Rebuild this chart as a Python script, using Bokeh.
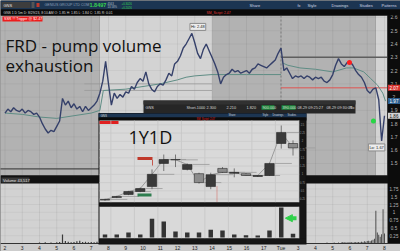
import numpy as np
from bokeh.plotting import figure
from bokeh.models import Range1d, Label, Arrow, NormalHead
from bokeh.core.properties import value
from bokeh.embed import file_html
from bokeh.resources import INLINE

W, H = 400, 251

# ---------------- 5m chart: hours since Mon 02:00 on x, 10-minute closes ----------------
PRICE = [
    1.88, 1.91, 1.89, 1.92, 1.90, 1.89,
    1.91, 1.88, 1.90, 1.89, 1.87, 1.88,
    1.85, 1.80, 1.76, 1.73, 1.75, 1.74,
    1.78, 1.82, 1.99, 1.94, 1.97, 1.92,
    1.95, 1.91, 1.93, 1.89, 1.93, 1.90,
    1.92, 1.94, 1.97, 2.03, 2.12, 2.27,
    2.10, 1.94, 2.03, 1.99, 2.02, 2.00,
    2.04, 2.03, 2.08, 2.06, 2.11, 2.14,
    2.12, 2.19, 2.10, 2.06, 2.04, 2.08,
    2.10, 2.09, 2.13, 2.18, 2.16, 2.25,
    2.27, 2.31, 2.37, 2.40, 2.44, 2.48,
    2.41, 2.33, 2.29, 2.36, 2.40, 2.35,
    2.30, 2.25, 2.19, 2.10, 2.15, 2.17,
    2.18, 2.21, 2.19, 2.20, 2.18, 2.19,
    2.20, 2.18, 2.21, 2.22, 2.25, 2.24,
    2.23, 2.22, 2.24, 2.26, 2.28, 2.33,
    2.37, 2.20, 2.22, 2.18, 2.14, 2.16,
    2.15, 2.16, 2.14, 2.16, 2.15, 2.13,
    2.15, 2.14, 2.15, 2.12, 2.11, 2.13,
    2.17, 2.24, 2.29, 2.25, 2.23, 2.26,
    2.27, 2.24, 2.20, 2.17, 2.15, 2.11,
    2.05, 2.03, 2.06, 2.07, 1.98, 1.67,
    1.86,
]
PRICE_T = np.arange(len(PRICE)) / 6.0

MA_DAY1_T = [0, 1, 2, 3, 4, 5, 5.5, 5.7, 7, 8, 9, 10, 10.5, 11, 12, 13, 14, 15, 16]
MA_DAY1 = [1.88, 1.87, 1.85, 1.84, 1.86, 1.88, 1.90, 2.05, 2.06, 2.08, 2.10, 2.13,
           2.15, 2.16, 2.17, 2.17, 2.17, 2.17, 2.17]
MA_DAY2_T = [16.05, 16.4, 17.1, 18.0, 19.0, 19.8, 20.2, 20.8, 21.2, 21.6, 21.9, 22.06]
MA_DAY2 = [2.26, 2.24, 2.22, 2.21, 2.19, 2.22, 2.22, 2.19, 2.14, 2.09, 2.03, 1.97]

SESSION_START = [-0.3, 5.5, 12.0, 21.5]
SESSION_END = [5.5, 12.0, 21.5, 22.17]
SESSION_REGULAR = [False, True, False, True]
DAY_BREAK = 16.0

LEVEL_T0 = [16.0, 16.0, 4.6, 4.6, -0.3]
LEVEL_T1 = [22.17, 22.17, 12.0, 12.0, 5.5]
LEVEL_PRICE = [2.30, 2.07, 2.10, 2.05, 1.46]
LEVEL_COLOR = ["#5e5e5e", "#e0524f", "#9a9a9a", "#9a9a9a", "#4a4a4a"]
LEVEL_WIDTH = [1.6, 1.0, 0.8, 0.8, 1.2]

SELL_T, SELL_P = 19.97, 2.26
BUY_T, BUY_P = 21.36, 1.82
LAST_PRICE = 1.86
MA_LAST = 1.97
STOP_LEVEL = 2.07

VOL_PRE = [0.02, 0.01, 0.02, 0.01, 0.01, 0.02, 0.01, 0.02, 0.01, 0.01, 0.02, 0.01,
           0.03, 0.02, 0.04, 0.02, 0.03, 0.02, 0.04, 0.05, 0.29, 0.08, 0.06, 0.04,
           0.05, 0.07, 0.09, 0.05, 0.06, 0.04, 0.05, 0.04, 0.06]
VOL_PRE_T = np.arange(len(VOL_PRE)) / 6.0
VOL_TUE = [0.01, 0.02, 0.01, 0.01, 0.02, 0.01, 0.02, 0.01, 0.01, 0.02, 0.01, 0.02,
           0.02, 0.01, 0.03, 0.02, 0.01, 0.02, 0.02, 0.03, 0.01, 0.02, 0.03, 0.02,
           0.03, 0.05, 0.04, 0.03, 0.04, 0.03, 0.05, 0.04, 0.03, 0.04, 0.05, 0.04,
           0.05, 0.04, 0.06, 0.05, 0.07, 0.06, 0.08, 0.09, 0.07, 0.10, 0.12, 0.15,
           1.05, 0.35, 0.28, 0.22, 0.30, 1.10, 0.32]
VOL_TUE_T = 17.5 + np.arange(len(VOL_TUE)) / 12.0

HOUR_LABELS = ["2", "3", "4", "5", "6", "7", "8", "9", "10", "11", "12", "13", "14",
               "15", "16", "17", "Tue", "3", "4", "5", "6", "7", "8"]
PRICE_TICKS = [2.6, 2.5, 2.4, 2.3, 2.2, 2.1, 2.0, 1.9, 1.8, 1.7, 1.6, 1.5]
VOL_TICKS = [1.75, 1.5, 1.25, 1.0, 0.75, 0.5, 0.25]

TRADE_ROW = ["GNS", "Short", "-1000", "2.300", "2.210", "1.820", "900.000", "390.000",
             "08-29 09:25:27", "08-29 09:30:07", "No"]

# ---------------- 1Y1D daily inset ----------------
D_OPEN = [0.22, 0.30, 0.39, 0.48, 0.63, 1.33, 1.45, 1.15, 1.02, 0.63, 1.18, 1.03, 1.02, 0.935, 0.965, 1.935, 1.935]
D_HIGH = [0.26, 0.35, 0.50, 0.60, 1.15, 1.60, 1.60, 1.33, 1.05, 1.05, 1.22, 1.18, 1.04, 0.97, 1.35, 2.48, 2.03]
D_LOW = [0.20, 0.28, 0.37, 0.46, 0.55, 1.10, 1.22, 1.12, 0.72, 0.55, 1.04, 0.91, 0.96, 0.92, 0.95, 1.78, 1.57]
D_CLOSE = [0.24, 0.33, 0.48, 0.57, 1.00, 1.45, 1.44, 1.30, 0.75, 0.99, 1.06, 1.06, 0.965, 0.965, 1.33, 2.27, 1.80]
D_VOL = [9, 9, 15, 9, 56, 48, 18, 15, 15, 23, 21, 9, 7, 6, 21, 90, 11]
D_IDX = np.arange(len(D_CLOSE))
D_TICKS = [0.25, 0.5, 0.75, 1.0, 1.25, 1.5, 1.75, 2.0, 2.25, 2.5]

UI = "Liberation Sans"
HEAD = "Open Sans"

p = figure(width=W, height=H, x_range=Range1d(0, W), y_range=Range1d(H, 0),
           x_axis_type=None, y_axis_type=None, output_backend="svg",
           toolbar_location=None, min_border=0, outline_line_color=None,
           background_fill_color="#151515", border_fill_color="#151515")
p.grid.visible = False
p.extra_x_ranges = {"t": Range1d(-0.261, 22.928), "d": Range1d(-8.894, 25.149)}
p.extra_y_ranges = {"price": Range1d(0.837, 2.728), "vol": Range1d(-0.256, 7.788),
                    "dp": Range1d(-1.338, 6.268), "dv": Range1d(-42, 711)}

T = dict(x_range_name="t")
TP = dict(x_range_name="t", y_range_name="price")
TV = dict(x_range_name="t", y_range_name="vol")
DP = dict(x_range_name="d", y_range_name="dp")
DV = dict(x_range_name="d", y_range_name="dv")


def txt(x, y, s, size, color, font=UI, align="left", baseline="middle", style="normal", **kw):
    p.text(x=[x], y=[y], text=[s], text_font=value(font), text_font_size=size,
           text_color=color, text_align=align, text_baseline=baseline,
           text_font_style=style, **kw)


def box(l, r, t, b, color, **kw):
    p.quad(left=[l], right=[r], top=[t], bottom=[b], fill_color=color, line_color=None, **kw)


# ---- main price pane ----
p.quad(left=SESSION_START, right=SESSION_END, top=15, bottom=175,
       fill_color=["#d3d3d3" if r else "#b2b2b2" for r in SESSION_REGULAR],
       line_color=None, **T)
hours = np.arange(len(HOUR_LABELS))
p.segment(x0=hours, x1=hours, y0=15, y1=175, line_color="#000000", line_alpha=0.08,
          line_width=0.8, **T)
p.segment(x0=0, x1=387, y0=PRICE_TICKS, y1=PRICE_TICKS, line_color="#000000",
          line_alpha=0.06, line_width=0.8, y_range_name="price")
p.segment(x0=[DAY_BREAK], x1=[DAY_BREAK], y0=15, y1=175, line_color="#6e6e6e",
          line_dash="2 2", line_width=0.8, **T)
p.segment(x0=LEVEL_T0, x1=LEVEL_T1, y0=LEVEL_PRICE, y1=LEVEL_PRICE,
          line_color=LEVEL_COLOR, line_width=LEVEL_WIDTH, **TP)
p.line(MA_DAY1_T, MA_DAY1, line_color="#5f8d85", line_width=1.0, **TP)
p.line(MA_DAY2_T, MA_DAY2, line_color="#5f8d85", line_width=1.0, **TP)
p.line(PRICE_T, PRICE, line_color="#35406a", line_width=1.4, **TP)
p.scatter([SELL_T], [SELL_P], size=5, fill_color="#ff1f1f", line_color=None, **TP)
p.scatter([BUY_T], [BUY_P], size=5, fill_color="#27d645", line_color=None, **TP)

# right price axis
box(387, 400, 15, 243, "#0c0c0c")
p.text(x=393.5, y=PRICE_TICKS, text=[f"{v:g}" for v in PRICE_TICKS], text_font=value(UI),
       text_font_size="5px", text_color="#b8b8b8", text_align="center",
       text_baseline="middle", y_range_name="price")
for val, bg, fg in [(STOP_LEVEL, "#d9312c", "#ffffff"), (MA_LAST, "#2d5f8f", "#ffffff"),
                    (LAST_PRICE, "#d4d4d4", "#111111")]:
    p.rect(x=[393.5], y=[val], width=12, height=6, height_units="screen",
           fill_color=bg, line_color=None, y_range_name="price")
    p.text(x=[393.5], y=[val], text=[f"{val:.2f}"], text_font=value(UI), text_font_size="4.5px",
           text_color=fg, text_align="center", text_baseline="middle", y_range_name="price")

# ---- volume pane ----
box(0, 387, 175, 183, "#111111")
box(1, 29, 177, 182, "#3a3a3a")
txt(2.5, 179.6, "Volume", "4px", "#e0e0e0")
txt(17, 179.6, "43,517", "4px", "#e0e0e0")
box(0, 387, 183, 243, "#d2d2d2")
p.segment(x0=hours, x1=hours, y0=183, y1=243, line_color="#000000", line_alpha=0.08,
          line_width=0.8, **T)
p.segment(x0=0, x1=387, y0=VOL_TICKS, y1=VOL_TICKS, line_color="#000000",
          line_alpha=0.06, line_width=0.8, y_range_name="vol")
p.vbar(x=VOL_PRE_T, top=VOL_PRE, bottom=0, width=0.07, fill_color="#3a3a3a",
       line_color=None, **TV)
p.vbar(x=VOL_TUE_T, top=VOL_TUE, bottom=0, width=0.05, fill_color="#3a3a3a",
       line_color=None, **TV)
p.text(x=393.5, y=VOL_TICKS, text=[f"{v:g}" for v in VOL_TICKS], text_font=value(UI),
       text_font_size="4.5px", text_color="#b8b8b8", text_align="center",
       text_baseline="middle", y_range_name="vol")

# bottom time axis
box(0, 400, 243, 251, "#cdcdcd")
p.segment(x0=0, x1=400, y0=243, y1=243, line_color="#333333", line_width=1)
p.text(x=hours, y=247.5, text=HOUR_LABELS, text_font=value(UI), text_font_size="5px",
       text_color="#222222", text_align="center", text_baseline="middle", **T)

# ---- trade table strip ----
box(143, 355, 100, 113, "#262626")
box(143, 355, 100, 104, "#313131")
box(261, 274, 104.8, 109.2, "#1e8a3c")
box(281, 295, 104.8, 109.2, "#1e8a3c")
for xpos, s in zip([145, 186, 195, 206, 226, 246, 262, 282, 297, 326, 349], TRADE_ROW):
    txt(xpos, 107, s, "3.8px", "#d8d8d8")

# ---- 1Y1D inset window ----
box(98, 306, 112.5, 244, "#101010")
box(98, 306, 113, 117, "#1c3552")
box(98, 306, 117, 120, "#0b0b0b")
box(99, 299, 120, 202, "#d9d9d9")
box(99, 299, 206, 238, "#d9d9d9")
txt(100, 115, "GNS", "3px", "#dddddd")
for xpos, s in [(228, "Share"), (262, "Style"), (272, "Drawings"), (287, "Studies")]:
    txt(xpos, 115, s, "2.6px", "#c8d0da")
box(99, 118, 120.6, 123.6, "#e02020")
txt(196, 118.5, "SM_Script: 2.47", "2.6px", "#e02020")

grid_k = np.arange(0.5, 17, 2.0)
p.segment(x0=grid_k, x1=grid_k, y0=120, y1=202, line_color="#c3c3c3", line_width=0.7,
          x_range_name="d")
p.segment(x0=grid_k, x1=grid_k, y0=206, y1=238, line_color="#c3c3c3", line_width=0.7,
          x_range_name="d")
p.segment(x0=99, x1=299, y0=D_TICKS, y1=D_TICKS, line_color="#c9c9c9", line_width=0.7,
          y_range_name="dp")

p.segment(x0=[9.53], x1=[9.53], y0=186, y1=201, line_color="#d0443a", line_dash="1 1",
          line_width=0.8, x_range_name="d")
p.line(D_IDX, D_CLOSE, line_color="#8a8a8a", line_width=0.8, **DP)
p.segment(x0=D_IDX + 0.45, x1=D_IDX + 1.9, y0=D_CLOSE, y1=D_CLOSE, line_color="#9a9a9a",
          line_width=0.8, **DP)
p.segment(x0=D_IDX, x1=D_IDX, y0=D_LOW, y1=D_HIGH, line_color="#6a6a6a", line_width=0.9, **DP)
up = [c >= o for o, c in zip(D_OPEN, D_CLOSE)]
p.vbar(x=D_IDX, top=[max(o, c) for o, c in zip(D_OPEN, D_CLOSE)],
       bottom=[min(o, c) for o, c in zip(D_OPEN, D_CLOSE)], width=0.8,
       fill_color=["#3a3a3a" if u else "#8c8c8c" for u in up], line_color="#262626",
       line_width=0.6, **DP)
box(137, 152, 156.5, 159.5, "#c0392b")
p.segment(x0=[152], x1=[152], y0=159.5, y1=165, line_color="#c0392b", line_width=0.8)
box(137, 151, 193, 196, "#2e7d4f")

p.vbar(x=D_IDX, top=D_VOL, bottom=0, width=0.38, fill_color="#333333", line_color=None, **DV)
p.add_layout(Arrow(x_start=16.3, y_start=58, x_end=15.35, y_end=58, line_color="#2fd14a",
                   line_width=4, end=NormalHead(size=7, fill_color="#2fd14a",
                                                line_color="#2fd14a"), **DV))

box(299, 305, 120, 238, "#161616")
box(99, 305, 202, 206, "#161616")
box(99, 305, 238, 243, "#161616")
p.text(x=302, y=D_TICKS, text=[f"{v:g}" for v in D_TICKS], text_font=value(UI),
       text_font_size="2.6px", text_color="#9a9a9a", text_align="center",
       text_baseline="middle", y_range_name="dp")
txt(128, 136.5, "1Y1D", "18px", "#111111", font=HEAD)

# ---- platform header bars ----
box(0, 400, 0, 9, "#1c3552")
box(0, 400, 9, 15, "#0a0a0a")
box(1, 30, 1.5, 7.5, "#3d3d3d")
txt(3, 4.6, "GNS", "4px", "#e8e8e8")
box(31, 34, 1.5, 7.5, "#555555")
box(36, 39, 2.5, 6.5, "#c0392b")
txt(44, 4.6, "GENIUS GROUP LTD COM", "3.6px", "#8ea1b8")
txt(89, 4.8, "1.8497", "5.5px", "#35d24f", style="bold")
txt(107, 3.0, "4563", "2.8px", "#b7c0cc")
txt(107, 6.4, "13.58%", "2.8px", "#b7c0cc")
txt(121, 3.0, "+0.3026", "2.8px", "#35d24f")
txt(121, 6.4, "+0.2026", "2.8px", "#35d24f")
for xpos, s in [(249, "Share"), (307, "Style"), (331, "Drawings"), (359, "Studies"), (381, "Patterns")]:
    txt(xpos, 4.8, s, "4px", "#d0d8e4")
for xpos, s in [(268, "fx"), (297, "fx")]:
    pass
txt(297, 4.8, "fx", "4px", "#d0d8e4")
txt(3, 12, "GNS 1 D 5m   D: 8/29/23, 8:10 AM   O: 1.85   H: 1.85   L: 1.84   C: 1.85   R: 0.01",
    "3.4px", "#d6d6d6")
txt(206, 12, "SM_Script: 2.47", "3.4px", "#e23b3b")
box(2, 42, 16, 21, "#ee1c1c")
txt(3.5, 18.6, "SSR !!! Trigger @ $2.47", "3.6px", "#ffffff")

# ---- headline text ----
txt(5, 45, "FRD - pump volume", "17px", "#111111", font=HEAD, baseline="alphabetic")
txt(5, 65, "exhaustion", "17px", "#111111", font=HEAD, baseline="alphabetic")

# ---- high / low markers ----
hi_i = int(np.argmax(PRICE))
lo_i = int(np.argmin(PRICE))
p.add_layout(Label(x=PRICE_T[hi_i], y=PRICE[hi_i], text=f"Hi: {PRICE[hi_i]:.2f}",
                   text_font=UI, text_font_size="4px", text_color="#222222",
                   text_align="center", text_baseline="bottom", x_offset=6, y_offset=3,
                   background_fill_color="#ececec", border_line_color="#8a8a8a",
                   padding=1, **TP))
p.add_layout(Label(x=PRICE_T[lo_i], y=PRICE[lo_i], text=f"Lo: {PRICE[lo_i]:.2f}",
                   text_font=UI, text_font_size="4px", text_color="#222222",
                   text_align="center", text_baseline="top", x_offset=-5, y_offset=-3,
                   background_fill_color="#ececec", border_line_color="#8a8a8a",
                   padding=1, **TP))

open("out.html", "w").write(file_html(p, INLINE))
